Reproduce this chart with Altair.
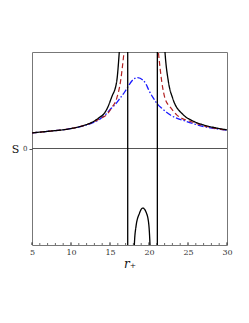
import altair as alt
import pandas as pd

# black solid curve, three branches between the two poles (r, S) in arbitrary units
black_seg = ["a"] * 15 + ["b"] * 11 + ["c"] * 13
black_r = [5, 7.3, 9.9, 11.6, 12.9, 13.7, 14.14, 14.58, 15.2, 15.86, 16.19, 16.6, 16.9, 17.1, 17.27,
           17.27, 17.8, 18.12, 18.33, 18.76, 19.19, 19.7, 20.0, 20.13, 20.6, 21.07,
           21.07, 21.15, 21.3, 21.5, 21.75, 22.05, 22.48, 23.04, 24.4, 25.5, 26.96, 28.5, 30]
black_s = [0.162, 0.18, 0.205, 0.238, 0.28, 0.325, 0.352, 0.405, 0.53, 0.696, 1.0, 1.55, 2.7, 6.0, 20,
           -20, -2.5, -1.0, -0.81, -0.675, -0.617, -0.675, -0.81, -1.0, -2.5, -20,
           20, 12.0, 4.3, 2.28, 1.44, 1.0, 0.696, 0.52, 0.349, 0.29, 0.245, 0.215, 0.193]
poles = [17.27, 21.07]

# red dashed curve
red_r = [5, 7.3, 9.9, 11.6, 12.9, 13.7, 14.57, 15.2, 15.86, 16.35, 16.8, 17.5, 19.0, 20.5,
         21.2, 21.63, 22.05, 22.8, 23.55, 25.7, 27.5, 30]
red_s = [0.162, 0.18, 0.205, 0.237, 0.275, 0.31, 0.349, 0.42, 0.52, 0.696, 1.0, 1.6, 2.0, 1.6,
         1.0, 0.696, 0.52, 0.42, 0.349, 0.27, 0.225, 0.19]

# blue dash-dot curve
blue_r = [5, 7.3, 9.9, 11.6, 12.9, 13.7, 14.58, 15.2, 15.6, 16.28, 16.9, 17.27, 17.8, 18.55,
          19.2, 19.6, 20.0, 20.5, 21.2, 21.6, 22.7, 24.8, 27.0, 30]
blue_s = [0.162, 0.18, 0.205, 0.235, 0.27, 0.304, 0.363, 0.42, 0.45, 0.52, 0.588, 0.635, 0.7, 0.735,
          0.71, 0.67, 0.6, 0.53, 0.45, 0.42, 0.349, 0.28, 0.228, 0.19]

x_major = [5, 10, 15, 20, 25, 30]
x_minor = list(range(5, 31))

xs = alt.Scale(domain=[5, 30], nice=False, zero=False)
ys = alt.Scale(domain=[-1, 1], nice=False, zero=False)

XAX = alt.Axis(values=x_major, ticks=False, domain=False, grid=False, labelOverlap=False,
               labelFlush=False, labelBound=False,
               labelFont="DejaVu Serif", labelFontSize=8, labelColor="#333",
               labelPadding=3, title="r₊", titleFont="DejaVu Serif",
               titleFontStyle="italic", titleFontWeight="normal", titleFontSize=12,
               titleColor="#111", titlePadding=2)
YAX = alt.Axis(values=[0], ticks=True, tickSize=3, tickColor="#555", domain=False, grid=False,
               labelFont="DejaVu Serif", labelFontSize=7, labelColor="#333", labelPadding=2,
               title="S", titleAngle=0, titleFont="DejaVu Serif", titleFontSize=11,
               titleFontWeight="normal", titleColor="#111", titleX=-17, titleY=97,
               titleAlign="center", titleBaseline="middle")

def X():
    return alt.X("r:Q", scale=xs, axis=XAX, title="r₊")

def Y(field="S:Q"):
    return alt.Y(field, scale=ys, axis=YAX, title="S")

def line(df, color, dash, width):
    return alt.Chart(df).mark_line(clip=True, color=color, strokeWidth=width,
                                   strokeDash=dash, interpolate="monotone").encode(
        x=X(), y=Y(), detail="seg:N", order="i:Q",
    )

zero = alt.Chart(pd.DataFrame({"r": [5], "S": [0]})).mark_rule(color="#555", strokeWidth=1).encode(
    y=Y()
)
minor = alt.Chart(pd.DataFrame({"r": x_minor})).mark_rule(color="#444", strokeWidth=0.8).encode(
    x=X(), y=alt.value(193), y2=alt.value(191),
)
major = alt.Chart(pd.DataFrame({"r": x_major})).mark_rule(color="#444", strokeWidth=0.8).encode(
    x=X(), y=alt.value(193), y2=alt.value(190),
)
pole_rules = alt.Chart(pd.DataFrame({"r": poles})).mark_rule(color="#000", strokeWidth=1.3).encode(
    x=X(),
)

black_df = pd.DataFrame({"r": black_r, "S": black_s, "seg": black_seg, "i": range(len(black_r))})
red_df = pd.DataFrame({"r": red_r, "S": red_s, "seg": "a", "i": range(len(red_r))})
blue_df = pd.DataFrame({"r": blue_r, "S": blue_s, "seg": "a", "i": range(len(blue_r))})

chart = alt.layer(
    zero, minor, major,
    line(blue_df, "#1a1aff", [6, 2, 1.5, 2], 1.3),
    line(red_df, "#b22222", [5, 3], 1.2),
    pole_rules,
    line(black_df, "#000000", [1, 0], 1.3),
).properties(
    width=195, height=193,
    autosize=alt.AutoSizeParams(type="none"),
    padding={"left": 24, "top": 44, "right": 14, "bottom": 60},
).configure_view(stroke="#777", strokeWidth=1)

chart.save("out.html", embed_options={"renderer": "svg", "actions": False})
